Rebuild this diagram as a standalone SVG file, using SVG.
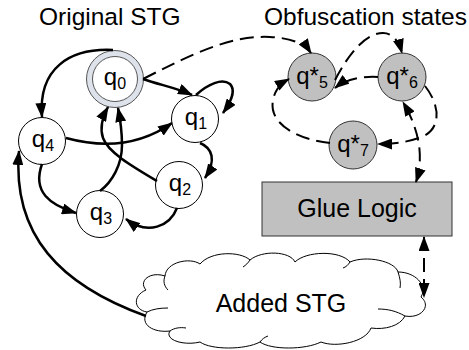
<svg xmlns="http://www.w3.org/2000/svg" width="469" height="350" viewBox="0 0 469 350">
<defs>
<marker id="ah" markerUnits="userSpaceOnUse" markerWidth="15" markerHeight="11" refX="14" refY="5.5" orient="auto-start-reverse">
<path d="M0,0 L15,5.5 L0,11 Z" fill="#000"/>
</marker>
</defs>
<style>
.t{font-family:"Liberation Sans",Arial,sans-serif;fill:#000}
.title{font-size:24.5px}
.lbl{font-size:24px}
.sub{font-size:16px}
.n{fill:#fff;stroke:#000;stroke-width:1}
.g{fill:#c0c0c0;stroke:#333;stroke-width:1}
.e{fill:none;stroke:#000;stroke-width:2.5;marker-end:url(#ah)}
.d{fill:none;stroke:#000;stroke-width:2;stroke-dasharray:14 7;marker-end:url(#ah)}
.cl{fill:#fff;stroke:#000;stroke-width:1}
.st{fill:none;stroke:#000;stroke-width:1}
</style>
<rect width="469" height="350" fill="#fff"/>
<text class="t title" x="39" y="25">Original STG</text>
<text class="t title" x="264" y="25">Obfuscation states</text>

<g id="cloud">
<path class="cl" d="M147,312 C134,310 132,296 146,290 C138,281 150,271 165,276 C166,262 190,257 200,264 C211,251 240,251 250,260 C262,250 290,251 295,262 C306,251 340,250 350,262 C366,255 395,261 398,272 C415,272 428,285 421,297 C432,306 421,319 405,316 C400,326 385,330 371,328 C366,342 336,348 321,342 C305,350 271,350 260,342 C245,350 211,350 200,342 C184,346 164,340 170,331 C154,333 139,325 147,312 Z"/>
<path class="st" d="M165,276 C163,281 164,286 168,290 M147,312 C153,309 160,308 168,308 M170,331 C174,328 180,327 186,328 M250,260 C248,263 246,265 243,267 M350,262 C348,265 346,267 343,268 M398,272 C400,278 401,283 400,288 M405,316 C396,311 388,309 378,309 M260,342 C262,339 265,337 268,336"/>
<text class="t" x="281" y="312" font-size="25" text-anchor="middle">Added STG</text>
</g>

<g id="glue">
<rect class="g" x="262" y="182" width="190" height="54"/>
<text class="t" x="357" y="217" font-size="25" text-anchor="middle">Glue Logic</text>
</g>

<g id="q0">
<circle cx="115" cy="79" r="28.5" fill="#dde2eb" stroke="#555" stroke-width="1"/>
<circle cx="115" cy="79" r="22.5" fill="#fff" stroke="#555" stroke-width="1"/>
<text class="t lbl" x="115" y="85" text-anchor="middle">q<tspan class="sub" dy="4">0</tspan></text>
</g>
<g id="q1">
<circle class="n" cx="195" cy="119" r="23.5"/>
<text class="t lbl" x="196" y="125" text-anchor="middle">q<tspan class="sub" dy="4">1</tspan></text>
</g>
<g id="q2">
<circle class="n" cx="179" cy="185" r="23.5"/>
<text class="t lbl" x="180" y="191" text-anchor="middle">q<tspan class="sub" dy="4">2</tspan></text>
</g>
<g id="q3">
<circle class="n" cx="100" cy="214" r="23.5"/>
<text class="t lbl" x="101" y="220" text-anchor="middle">q<tspan class="sub" dy="4">3</tspan></text>
</g>
<g id="q4">
<circle class="n" cx="42" cy="141" r="23.5"/>
<text class="t lbl" x="43" y="147" text-anchor="middle">q<tspan class="sub" dy="4">4</tspan></text>
</g>
<g id="q5">
<circle class="g" cx="312" cy="77" r="24"/>
<text class="t lbl" x="312" y="84" text-anchor="middle">q*<tspan class="sub" dy="4">5</tspan></text>
</g>
<g id="q6">
<circle class="g" cx="402" cy="77" r="24"/>
<text class="t lbl" x="402" y="84" text-anchor="middle">q*<tspan class="sub" dy="4">6</tspan></text>
</g>
<g id="q7">
<circle class="g" cx="353" cy="145" r="24"/>
<text class="t lbl" x="353" y="152" text-anchor="middle">q*<tspan class="sub" dy="4">7</tspan></text>
</g>

<g id="connectors">
<path class="e" d="M113,50 C70,48 38,68 42,117"/>
<path class="e" d="M143,79 C160,85 177,88 192,95"/>
<path class="e" d="M196,95 C208,84 222,78 230,84 C236,90 231,102 223,113"/>
<path class="e" d="M66,138 C110,150 145,142 172,123"/>
<path class="e" d="M200,143 C212,148 217,160 205,178"/>
<path class="e" d="M177,208 C170,226 148,236 126,219"/>
<path class="e" d="M157,181 C130,165 108,152 103,138 C99,126 103,116 108,107"/>
<path class="e" d="M100,191 C112,182 122,165 122,145 C122,130 120,118 118,108"/>
<path class="e" d="M42,164 C32,192 50,205 76,213"/>
<path class="e" d="M146,316 C60,285 12,235 19,151"/>

<path class="d" d="M143,79 C190,55 230,35 270,37 C292,38 305,44 311,53"/>
<path class="d" d="M335,80 C348,55 365,33 383,33 C393,33 399,42 402,53"/>
<path class="d" d="M378,77 C360,76 345,80 335,88"/>
<path class="d" d="M425,86 C440,105 442,128 422,137 C408,142 395,144 378,144"/>
<path class="d" d="M330,143 C300,140 268,125 273,100 C275,90 280,84 289,79"/>
<path class="d" d="M416,182 Q428,145 403,102" style="marker-start:url(#ah)"/>
<path class="d" d="M424,237 L424,297" style="marker-start:url(#ah)"/>
</g>
</svg>
